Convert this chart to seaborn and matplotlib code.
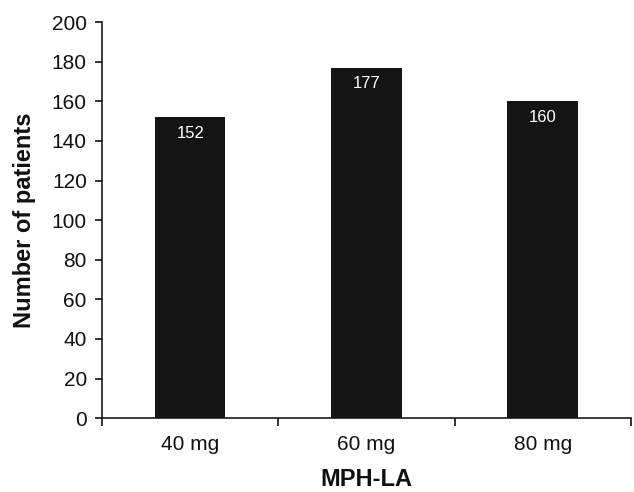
import matplotlib
matplotlib.use("Agg")
import matplotlib.pyplot as plt
import seaborn as sns
import pandas as pd

categories = ["40 mg", "60 mg", "80 mg"]
patients = [152, 177, 160]

sns.set_style("white")
plt.rcParams['font.family'] = ['Liberation Sans', 'DejaVu Sans']
plt.rcParams['text.color'] = '#111111'
plt.rcParams['axes.labelcolor'] = '#111111'
plt.rcParams['xtick.color'] = '#111111'
plt.rcParams['ytick.color'] = '#111111'

df = pd.DataFrame({"dose": categories, "n": patients})

fig = plt.figure(figsize=(6.34, 4.92), dpi=100)
ax = fig.add_axes([0.161, 0.150, 0.834, 0.805])
sns.barplot(data=df, x="dose", y="n", color="#141414", width=0.4,
            saturation=1, ax=ax, edgecolor="none")

ax.set_xlim(-0.5, 2.5)
ax.set_ylim(0, 200)
ax.set_yticks(range(0, 201, 20))
ax.tick_params(axis="y", direction="out", length=5, width=1.2, labelsize=15, pad=6, left=True)
ax.tick_params(axis="x", which="major", length=0, labelsize=15, pad=12)
ax.set_xticks([-0.5, 0.5, 1.5, 2.5], minor=True)
ax.tick_params(axis="x", which="minor", direction="out", length=6, width=1.2, bottom=True)

for s in ["top", "right"]:
    ax.spines[s].set_visible(False)
for s in ["left", "bottom"]:
    ax.spines[s].set_linewidth(1.2)
    ax.spines[s].set_color("#1a1a1a")

for i, v in enumerate(patients):
    ax.text(i, v - 8, str(v), color="white", ha="center", va="center", fontsize=12)

ax.set_xlabel("MPH-LA", fontsize=17, fontweight="bold", labelpad=10)
ax.set_ylabel("Number of patients", fontsize=17, fontweight="bold", labelpad=11)

fig.savefig("out.png", dpi=100)
